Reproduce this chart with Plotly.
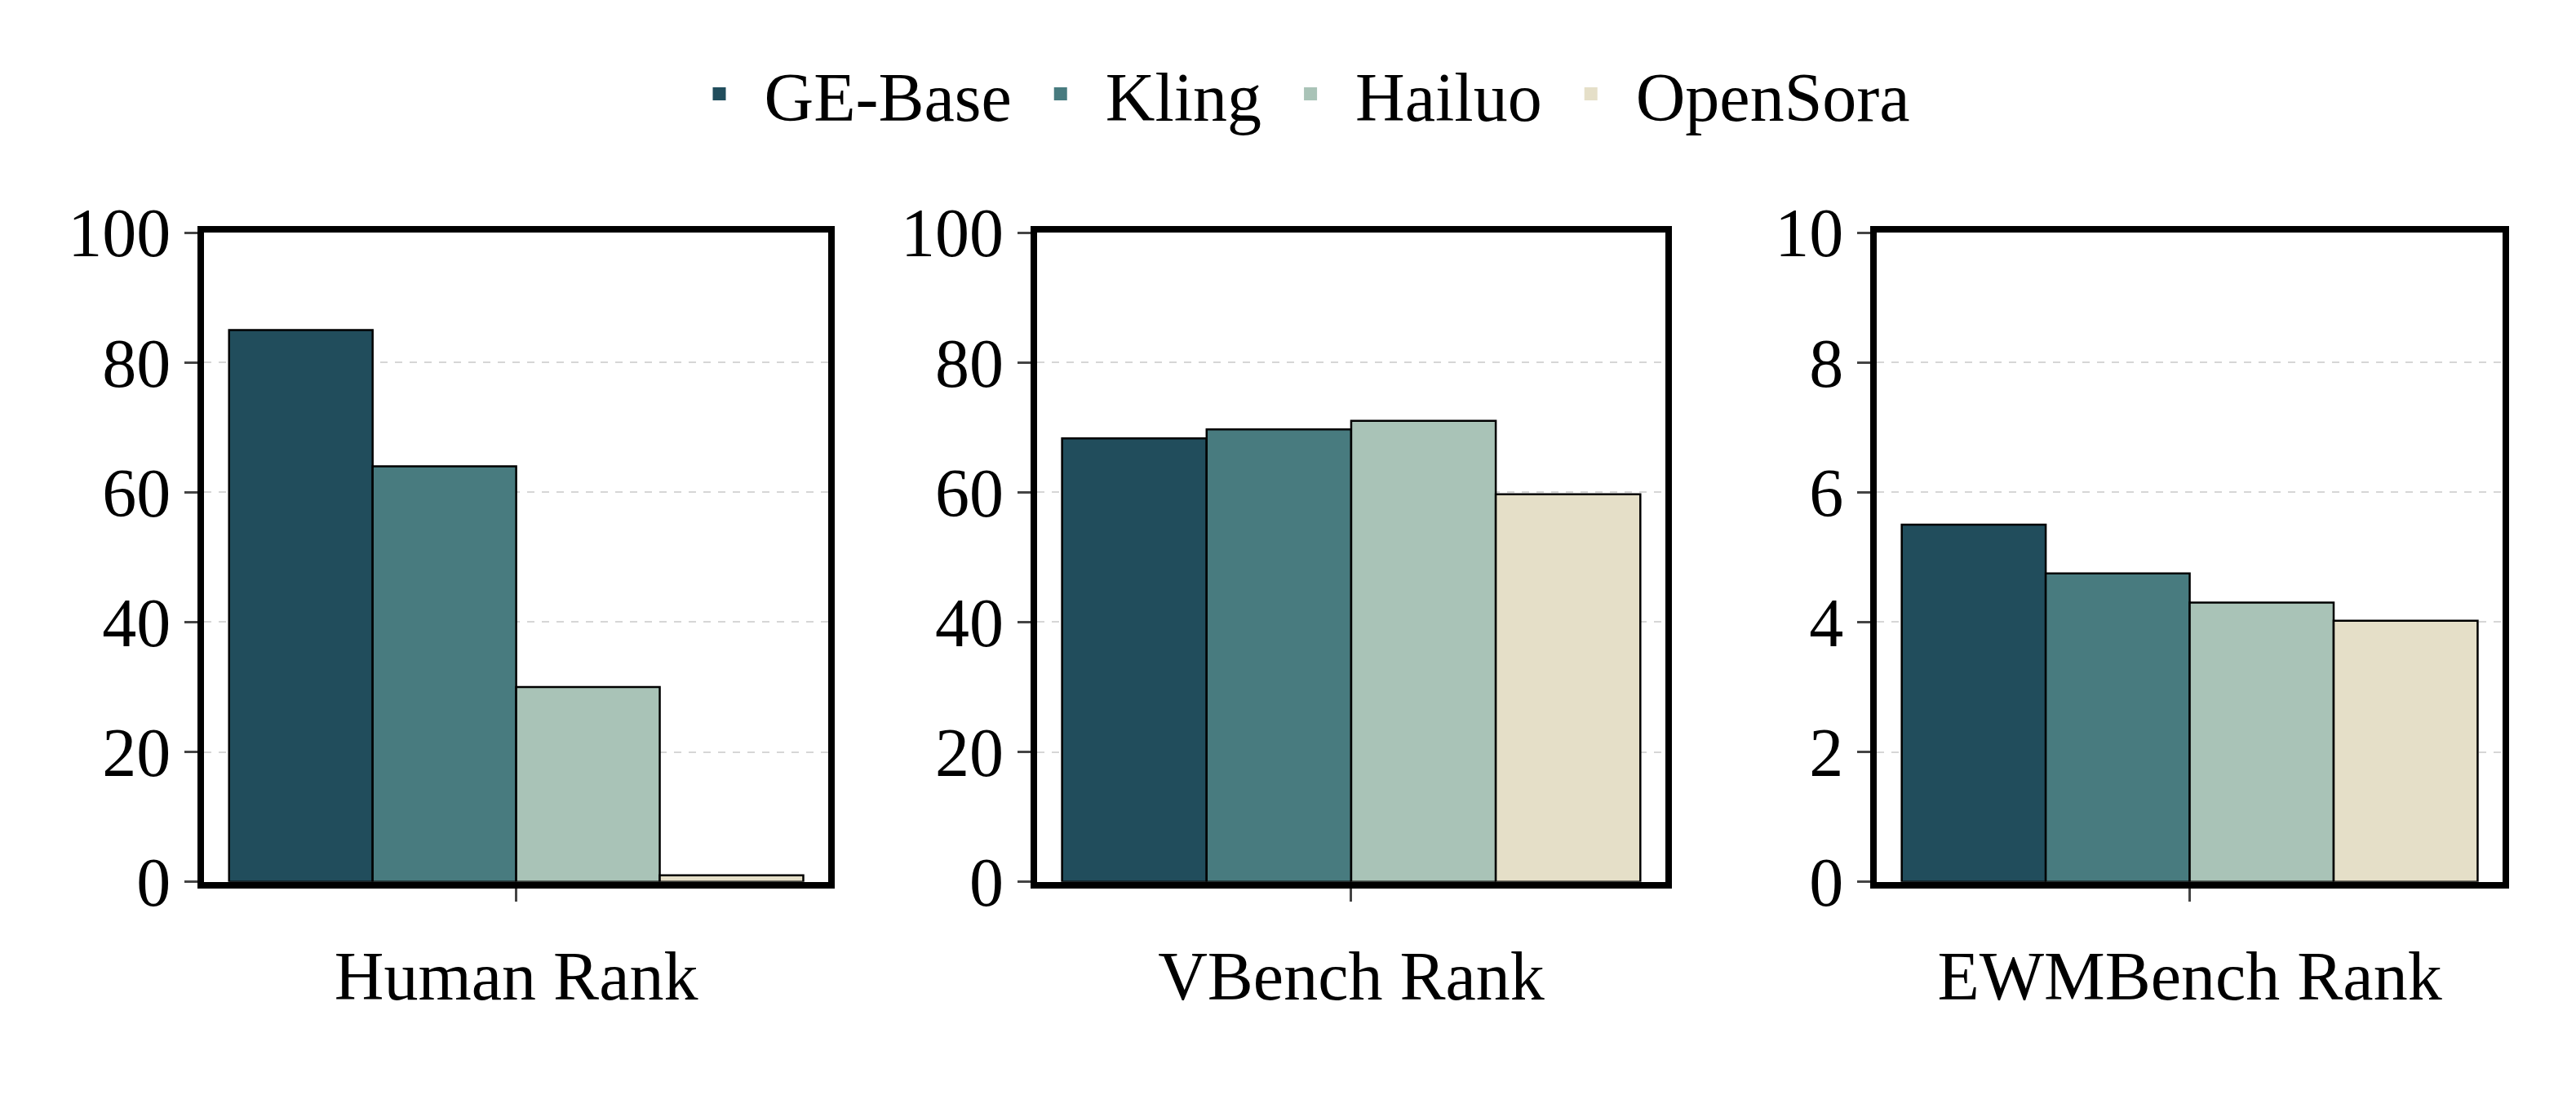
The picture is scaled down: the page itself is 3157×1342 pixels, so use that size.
import plotly.graph_objects as go
from plotly.subplots import make_subplots

models = ["GE-Base", "Kling", "Hailuo", "OpenSora"]
colors = ["#214d5c", "#487b7f", "#a9c3b7", "#e5dfc8"]
panels = ["Human Rank", "VBench Rank", "EWMBench Rank"]
human = [85, 64, 30, 1]
vbench = [68.3, 69.7, 71, 59.7]
ewm = [5.5, 4.75, 4.3, 4.02]
values = [human, vbench, ewm]
ymax = [100, 100, 10]

font = "Liberation Serif"
fig = make_subplots(rows=1, cols=3)

for p, (name, vals) in enumerate(zip(panels, values)):
    for m, c, v in zip(models, colors, vals):
        fig.add_bar(x=[name], y=[v], marker=dict(color=c, line=dict(color="black", width=2.5)),
                    showlegend=False, row=1, col=p + 1)

# legend markers
for m, c in zip(models, colors):
    fig.add_scatter(x=[None], y=[None], mode="markers", name=m,
                    marker=dict(symbol="square", size=88, color=c, line=dict(width=0)),
                    row=1, col=1)

domains = [[0.0767, 0.319], [0.400, 0.644], [0.726, 0.969]]
for i in range(3):
    ax = "xaxis" if i == 0 else f"xaxis{i+1}"
    ay = "yaxis" if i == 0 else f"yaxis{i+1}"
    fig.layout[ax].update(domain=domains[i], range=[-0.5, 0.5], showline=True, mirror=True,
                          linecolor="black", linewidth=8, ticks="outside", ticklen=16, tickwidth=3,
                          tickfont=dict(size=84, family=font, color="black"), ticklabelstandoff=20)
    step = ymax[i] / 5
    fig.layout[ay].update(domain=[0.178, 0.815], range=[0, ymax[i]], dtick=step,
                          showline=True, mirror=True, linecolor="black", linewidth=8,
                          ticks="outside", ticklen=16, tickwidth=3,
                          showgrid=True, gridcolor="#d6d6d6", griddash="dash", gridwidth=2,
                          zeroline=False,
                          tickfont=dict(size=84, family=font, color="black"))

fig.update_layout(
    width=3157, height=1342, barmode="group", bargap=0.08, bargroupgap=0,
    plot_bgcolor="white", paper_bgcolor="white",
    margin=dict(l=0, r=0, t=0, b=0),
    font=dict(family=font, color="black"),
    legend=dict(orientation="h", x=0.5, xanchor="center", y=1.0, yanchor="top",
                font=dict(size=84, family=font), itemsizing="trace", itemwidth=100),
)
fig.write_html("out.html")
